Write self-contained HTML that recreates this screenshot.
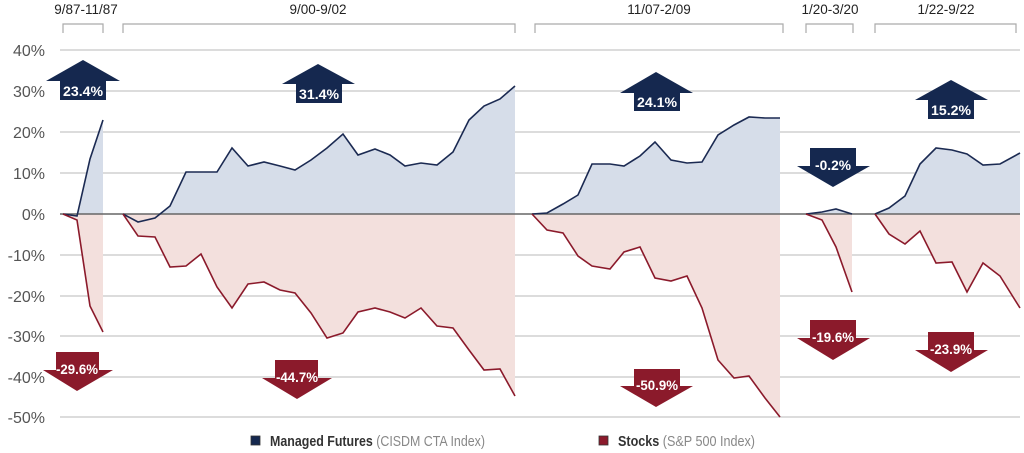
<!DOCTYPE html>
<html><head><meta charset="utf-8"><style>
body{margin:0;background:#fff;}
svg{display:block;font-family:"Liberation Sans",sans-serif;}
</style></head><body>
<svg width="1024" height="453" viewBox="0 0 1024 453">
<g stroke="#c8c8c8" stroke-width="1.2">
<line x1="60" y1="50" x2="1020" y2="50"/><line x1="60" y1="91" x2="1020" y2="91"/><line x1="60" y1="132" x2="1020" y2="132"/><line x1="60" y1="173" x2="1020" y2="173"/>
<line x1="60" y1="255" x2="1020" y2="255"/><line x1="60" y1="296" x2="1020" y2="296"/><line x1="60" y1="336" x2="1020" y2="336"/><line x1="60" y1="377" x2="1020" y2="377"/><line x1="60" y1="417" x2="1020" y2="417"/>
</g>
<g font-size="16" fill="#555" text-anchor="end">
<text x="45" y="56">40%</text><text x="45" y="97">30%</text><text x="45" y="138">20%</text><text x="45" y="179">10%</text><text x="45" y="220">0%</text>
<text x="45" y="261">-10%</text><text x="45" y="302">-20%</text><text x="45" y="342">-30%</text><text x="45" y="383">-40%</text><text x="45" y="423">-50%</text>
</g>
<g stroke="#aaa" stroke-width="1.2" fill="none">
<polyline points="63,33 63,24 103,24 103,33"/>
<polyline points="123,33 123,24 515,24 515,33"/>
<polyline points="535,33 535,24 783,24 783,33"/>
<polyline points="806,33 806,24 853,24 853,33"/>
<polyline points="875,33 875,24 1016,24 1016,33"/>
</g>
<g font-size="13.5" fill="#222" text-anchor="middle">
<text x="86" y="14">9/87-11/87</text><text x="318" y="14">9/00-9/02</text><text x="659" y="14">11/07-2/09</text><text x="830" y="14">1/20-3/20</text><text x="946" y="14">1/22-9/22</text>
</g>
<g fill="#d6dde9">
<polygon points="63,214 77,216 90,159 103,120 103,214"/>
<polygon points="123,214 138,222 155,218 170,206 186,172 201,172 217,172 232,148 248,166 264,162 280,166 295,170 311,160 327,148 343,134 358,155 375,149 390,155 405,166 421,163 437,165 453,152 469,120 484,106 500,99 515,86 515,214"/>
<polygon points="532,214 547,213 563,204 578,195 592,164 610,164 624,166 640,156 655,142 671,160 687,163 702,162 718,135 734,125 749,117 765,118 780,118 780,214"/>
<polygon points="806,214 822,212 836,209 852,214"/>
<polygon points="875,214 889,208 905,196 920,164 936,148 952,150 967,154 983,165 1000,164 1020,153 1020,214"/>
</g>
<g fill="#f3e0dd">
<polygon points="63,214 77,220 90,306 103,332 103,214"/>
<polygon points="123,214 138,236 155,237 170,267 186,266 201,254 217,287 232,308 248,284 264,282 280,290 295,293 311,313 327,338 343,333 358,312 375,308 390,312 405,318 421,308 437,326 453,328 469,350 484,370 500,369 515,396 515,214"/>
<polygon points="532,214 547,230 563,233 578,256 592,266 610,269 624,252 640,247 655,278 671,281 687,276 702,308 718,360 734,378 749,376 765,398 780,417 780,214"/>
<polygon points="806,214 822,220 836,247 852,292 852,214"/>
<polygon points="875,214 889,234 905,244 920,231 936,263 952,262 967,292 983,263 1000,276 1020,308 1020,214"/>
</g>
<line x1="60" y1="214" x2="1020" y2="214" stroke="#666" stroke-width="1.5"/>
<g fill="none" stroke="#1b2a52" stroke-width="1.6">
<polyline points="63,214 77,216 90,159 103,120"/>
<polyline points="123,214 138,222 155,218 170,206 186,172 201,172 217,172 232,148 248,166 264,162 280,166 295,170 311,160 327,148 343,134 358,155 375,149 390,155 405,166 421,163 437,165 453,152 469,120 484,106 500,99 515,86"/>
<polyline points="532,214 547,213 563,204 578,195 592,164 610,164 624,166 640,156 655,142 671,160 687,163 702,162 718,135 734,125 749,117 765,118 780,118"/>
<polyline points="806,214 822,212 836,209 852,214"/>
<polyline points="875,214 889,208 905,196 920,164 936,148 952,150 967,154 983,165 1000,164 1020,153"/>
</g>
<g fill="none" stroke="#8b1a2b" stroke-width="1.6">
<polyline points="63,214 77,220 90,306 103,332"/>
<polyline points="123,214 138,236 155,237 170,267 186,266 201,254 217,287 232,308 248,284 264,282 280,290 295,293 311,313 327,338 343,333 358,312 375,308 390,312 405,318 421,308 437,326 453,328 469,350 484,370 500,369 515,396"/>
<polyline points="532,214 547,230 563,233 578,256 592,266 610,269 624,252 640,247 655,278 671,281 687,276 702,308 718,360 734,378 749,376 765,398 780,417"/>
<polyline points="806,214 822,220 836,247 852,292"/>
<polyline points="875,214 889,234 905,244 920,231 936,263 952,262 967,292 983,263 1000,276 1020,308"/>
</g>
<g fill="#15284f">
<polygon points="83,60 120,81 106,81 106,100 60,100 60,81 46,81"/>
<polygon points="318,64 355,84 342,84 342,103 296,103 296,84 282,84"/>
<polygon points="656,72 693,93 680,93 680,111 634,111 634,93 620,93"/>
<polygon points="951,80 988,100 974,100 974,119 928,119 928,100 915,100"/>
<polygon points="810,148 856,148 856,166 870,166 833,187 797,166 810,166"/>
</g>
<g fill="#8b1a2b">
<polygon points="56,352 99,352 99,370 113,370 77,391 43,370 56,370"/>
<polygon points="275,360 318,360 318,378 332,378 297,399 262,378 275,378"/>
<polygon points="634,369 680,369 680,386 693,386 656,407 620,386 634,386"/>
<polygon points="810,320 856,320 856,338 870,338 833,360 797,338 810,338"/>
<polygon points="928,332 974,332 974,350 988,350 951,372 915,350 928,350"/>
</g>
<g font-size="14" font-weight="bold" fill="#fff" text-anchor="middle">
<text x="83" y="96" textLength="40" lengthAdjust="spacingAndGlyphs">23.4%</text><text x="319" y="99" textLength="40" lengthAdjust="spacingAndGlyphs">31.4%</text><text x="657" y="107" textLength="40" lengthAdjust="spacingAndGlyphs">24.1%</text><text x="951" y="115" textLength="40" lengthAdjust="spacingAndGlyphs">15.2%</text><text x="833" y="170" textLength="36" lengthAdjust="spacingAndGlyphs">-0.2%</text>
<text x="77" y="374" textLength="42" lengthAdjust="spacingAndGlyphs">-29.6%</text><text x="297" y="382" textLength="42" lengthAdjust="spacingAndGlyphs">-44.7%</text><text x="657" y="390" textLength="42" lengthAdjust="spacingAndGlyphs">-50.9%</text><text x="833" y="342" textLength="42" lengthAdjust="spacingAndGlyphs">-19.6%</text><text x="951" y="354" textLength="42" lengthAdjust="spacingAndGlyphs">-23.9%</text>
</g>
<rect x="251" y="436" width="9" height="9" fill="#15284f" stroke="#333" stroke-width="0.8"/>
<text x="270" y="446" font-size="15" fill="#333" textLength="215" lengthAdjust="spacingAndGlyphs"><tspan font-weight="bold">Managed Futures</tspan><tspan fill="#888"> (CISDM CTA Index)</tspan></text>
<rect x="599" y="436" width="9" height="9" fill="#8b1a2b" stroke="#333" stroke-width="0.8"/>
<text x="618" y="446" font-size="15" fill="#333" textLength="137" lengthAdjust="spacingAndGlyphs"><tspan font-weight="bold">Stocks</tspan><tspan fill="#888"> (S&amp;P 500 Index)</tspan></text>
</svg>
</body></html>
